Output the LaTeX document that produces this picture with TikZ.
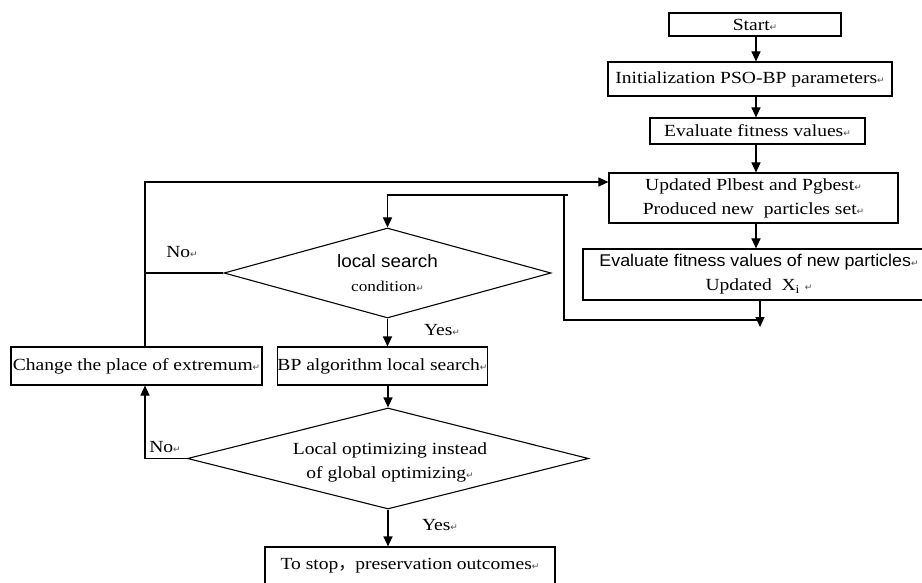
\documentclass[tikz,border=0pt]{standalone}
\usepackage{fontspec}
\setmainfont{Liberation Serif}[FakeStretch=1.15]
\newfontfamily\arialf{Liberation Sans}[FakeStretch=1.05]
\newfontfamily\cjkf{Noto Sans CJK SC}
\newfontfamily\symf{DejaVu Sans}
\usetikzlibrary{arrows.meta,shapes.geometric}
\newcommand{\retmk}{{\symf\fontsize{9}{9}\selectfont\textcolor{black!70}{↵}}}
\begin{document}
\begin{tikzpicture}[x=1pt,y=-1pt,
  every node/.style={font=\fontsize{17}{24}\selectfont},
  box/.style={draw, rectangle, line width=1.1pt, inner sep=0pt, align=center},
  dia/.style={draw, diamond, line width=1.1pt, inner sep=0pt},
  lbl/.style={inner sep=0pt, align=center},
  arr/.style={line width=1.1pt, -{Triangle[length=10pt,width=9pt]}},
  ln/.style={line width=1.1pt}]
\clip (0,0) rectangle (922,583);
\fill[white] (0,0) rectangle (922,583);
% boxes
\node[box, minimum width=172, minimum height=23] (start) at (755,24.5) {Start\retmk};
\node[box, minimum width=284, minimum height=34] (init) at (750,79) {Initialization PSO-BP parameters\retmk};
\node[box, minimum width=215, minimum height=26] (eval) at (757.5,131) {Evaluate fitness values\retmk};
\node[box, minimum width=289, minimum height=50] (upd) at (753.5,198) {Updated Plbest and Pgbest\retmk\\Produced new \ particles set\retmk};
\node[box, minimum width=352, minimum height=51] (evn) at (759,274.5) {{\arialf Evaluate fitness values of new particles}\retmk\\Updated \ X\textsubscript{i} \retmk};
\node[dia, minimum width=327, minimum height=90] (d1) at (387.5,273) {};
\node[lbl] (d1t) at (387.5,273) {{\arialf\fontsize{18}{25}\selectfont local search}\\{\fontsize{15}{15}\selectfont condition}\retmk};
\node[box, minimum width=209, minimum height=38] (bp) at (382.5,366) {BP algorithm local search\retmk};
\node[box, minimum width=251, minimum height=38] (chg) at (136.5,366) {Change the place of extremum\retmk};
\node[dia, minimum width=401, minimum height=101] (d2) at (388,458.5) {};
\node[lbl] (d2t) at (390,462) {Local optimizing instead\\of global optimizing\retmk};
\node[box, minimum width=290, minimum height=38] (stop) at (410,566) {To stop{\cjkf ，}preservation outcomes\retmk};
% labels
\node[lbl] (no1) at (182,252) {No\retmk};
\node[lbl] (no2) at (165,447) {No\retmk};
\node[lbl] (yes1) at (442,330) {Yes\retmk};
\node[lbl] (yes2) at (440,525) {Yes\retmk};
% helper coordinates
\coordinate (c) at (756,0);
\coordinate (j1) at (760,320);
\coordinate (j2) at (760,327);
\coordinate (k1) at (564,195);
\coordinate (l1) at (145,182);
% main column
\draw[arr] (start.south -| c) -- (init.north -| c);
\draw[arr] (init.south -| c) -- (eval.north -| c);
\draw[arr] (eval.south -| c) -- (upd.north -| c);
\draw[arr] (upd.south -| c) -- (evn.north -| c);
\draw[arr] (evn.south -| j2) -- (j2);
% return loop to local search
\draw[arr] (j1) -| (k1) -| (d1.north);
\draw[ln] (k1) -- ++(4,0);
% local search branch
\draw[arr] (d1.south) -- (d1.south |- bp.north);
\draw[arr] (bp.south -| d2.north) -- (d2.north);
\draw[arr] (d2.south) -- (d2.south |- stop.north);
% No branches
\draw[ln] (d1.west) -- (d1.west -| l1);
\draw[arr] (chg.north -| l1) -- (l1) -- (l1 -| upd.west);
\draw[arr] (d2.west) -| (chg.south -| l1);
\end{tikzpicture}
\end{document}
